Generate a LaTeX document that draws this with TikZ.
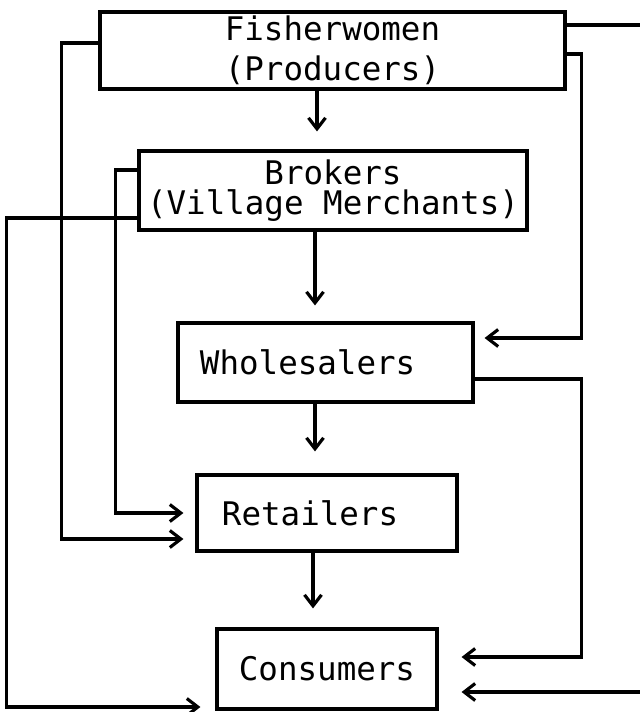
\documentclass[tikz,border=0pt]{standalone}
\usepackage{fontspec}
\newfontfamily\chartfont{DejaVu Sans Mono}
\usetikzlibrary{arrows.meta, positioning}

\begin{document}
\begin{tikzpicture}[x=0.2mm, y=-0.2mm,
  box/.style={draw, line width=1.8pt, inner sep=0pt, minimum height=15.8mm,
    font=\chartfont\fontsize{18.5}{17}\selectfont},
  flow/.style={line width=1.8pt, -{Straight Barb[length=2.2mm, width=3.4mm]}}]

\useasboundingbox (0,0) rectangle (640,712);
\clip (0,0) rectangle (640,712);

% boxes
\node[box, minimum width=93mm, minimum height=15.4mm, align=center] (fish) at (332.5,50.5) {Fisherwomen\\[6pt](Producers)};
\node[box, minimum width=77.6mm, align=center] (brok) at (333,190.5) {Brokers\\(Village Merchants)};
\node[box, text width=50.2mm, inner xsep=4.4mm, align=left] (whol) at (325.5,362.5) {Wholesalers};
\node[box, text width=42mm, inner xsep=5mm, minimum height=15.2mm, align=left] (reta) at (327,513) {Retailers};
\node[box, minimum width=44mm, minimum height=16mm] (cons) at (327,669) {Consumers};

% main chain
\draw[flow, shorten >=3.6mm] ([xshift=-3.1mm]fish.south) -- ([xshift=-3.1mm]fish.south |- brok.north);
\draw[flow, shorten >=3.2mm] ([xshift=-3.6mm]brok.south) -- ([xshift=-3.6mm]brok.south |- whol.north);
\draw[flow, shorten >=4.4mm] ([xshift=-2.1mm]whol.south) -- ([xshift=-2.1mm]whol.south |- reta.north);
\draw[flow, shorten >=3.8mm] ([xshift=-2.8mm]reta.south) -- ([xshift=-2.8mm]reta.south |- cons.north);

% side channels
\draw[flow, shorten >=2.4mm] ([yshift=1.5mm]fish.west) -- ++(-37,0) |- ([yshift=-5.2mm]reta.west);
\draw[flow, shorten >=2.4mm] ([yshift=4.1mm]brok.west) -- ++(-22,0) |- (reta.west);
\draw[flow, shorten >=3mm] ([yshift=-5.5mm]brok.west) -- ++(-131,0) |- ([yshift=-7.6mm]cons.west);
\draw[flow, shorten >=2mm] ([yshift=-0.7mm]fish.east) -- ++(15,0) |- ([yshift=4.9mm]whol.east);
\draw[flow, shorten >=4.6mm] ([yshift=-3.3mm]whol.east) -- ++(107,0) |- ([yshift=2.4mm]cons.east);
\draw[flow, shorten >=4.6mm] ([yshift=5.1mm]fish.east) -- ++(83,0) |- ([yshift=-4.6mm]cons.east);

\end{tikzpicture}
\end{document}
